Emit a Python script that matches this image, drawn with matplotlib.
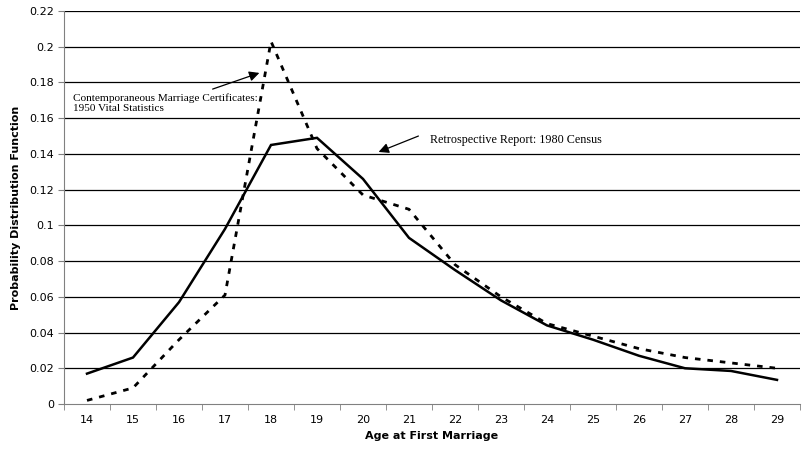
import matplotlib
matplotlib.use("Agg")
import matplotlib.pyplot as plt
import numpy as np

ages = [14, 15, 16, 17, 18, 19, 20, 21, 22, 23, 24, 25, 26, 27, 28, 29]
census_1980 = [0.017, 0.026, 0.057, 0.098, 0.145, 0.149, 0.126, 0.093, 0.075, 0.058,
               0.044, 0.036, 0.027, 0.020, 0.0185, 0.0135]
vital_1950 = [0.002, 0.009, 0.036, 0.061, 0.203, 0.143, 0.117, 0.109, 0.078, 0.060,
              0.045, 0.038, 0.031, 0.026, 0.023, 0.020]
yticks = [0, 0.02, 0.04, 0.06, 0.08, 0.1, 0.12, 0.14, 0.16, 0.18, 0.2, 0.22]
ytick_labels = ["0", "0.02", "0.04", "0.06", "0.08", "0.1", "0.12", "0.14", "0.16", "0.18", "0.2", "0.22"]

W, H = 809, 453
fig = plt.figure(figsize=(W / 100, H / 100), dpi=100)
ax = fig.add_axes([64 / W, (H - 404) / H, 736 / W, 393 / H])

x = np.arange(len(ages))
ax.plot(x, census_1980, color="black", lw=1.8, solid_joinstyle="miter")
ax.plot(x, vital_1950, color="black", lw=2.0, linestyle=(0, (2, 2.5)))

ax.set_xlim(-0.5, len(ages) - 0.5)
ax.set_ylim(0, 0.22)
ax.set_yticks(yticks)
ax.set_yticklabels(ytick_labels)
ax.set_xticks(x)
ax.set_xticklabels([str(a) for a in ages])
ax.set_xticks(np.arange(-0.5, len(ages)), minor=True)
ax.tick_params(axis="x", which="major", length=0, pad=8, labelsize=8)
ax.tick_params(axis="x", which="minor", length=4, color="#808080")
ax.tick_params(axis="y", length=4, color="#808080", labelsize=8, pad=3)

for v in yticks[1:]:
    ax.axhline(v, color="black", lw=0.9, zorder=0)

for s in ["top", "right"]:
    ax.spines[s].set_visible(False)
ax.spines["left"].set_color("#808080")
ax.spines["bottom"].set_color("#808080")

ax.set_xlabel("Age at First Marriage", fontsize=8, fontweight="bold", labelpad=4)
ax.set_ylabel("Probability Distribution Function", fontsize=8, fontweight="bold", labelpad=6)

fig.text(73 / W, 1 - 103 / H, "Contemporaneous Marriage Certificates:\n1950 Vital Statistics",
         fontsize=8.1, family="Liberation Serif", va="center", ha="left", linespacing=1.05)
fig.text(430 / W, 1 - 140 / H, "Retrospective Report: 1980 Census",
         fontsize=8.7, family="Liberation Serif", va="center", ha="left")

fig.add_artist(matplotlib.patches.FancyArrowPatch(
    (210 / W, 1 - 90 / H), (262 / W, 1 - 72 / H), transform=fig.transFigure,
    arrowstyle="-|>,head_length=6,head_width=3", color="black", lw=0.9))
fig.add_artist(matplotlib.patches.FancyArrowPatch(
    (421 / W, 1 - 135 / H), (376 / W, 1 - 153 / H), transform=fig.transFigure,
    arrowstyle="-|>,head_length=6,head_width=3", color="black", lw=0.9))

fig.savefig("out.png", dpi=100)
